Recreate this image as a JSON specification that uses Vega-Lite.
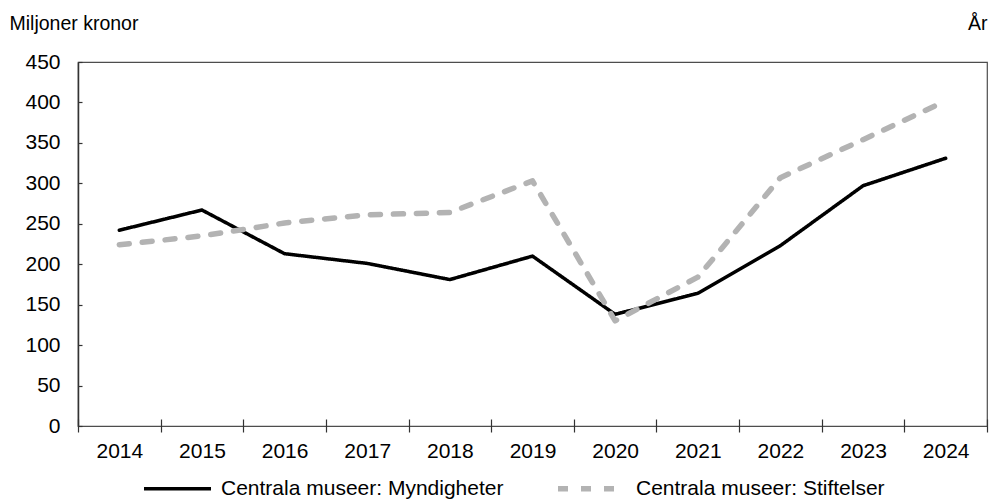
{
  "$schema": "https://vega.github.io/schema/vega-lite/v6.json",
  "width": 909,
  "height": 364,
  "autosize": {"type": "none"},
  "padding": {"left": 78, "top": 62, "right": 5, "bottom": 73},
  "background": "white",
  "config": {
    "font": "Liberation Sans",
    "view": {"stroke": "#4d4d4d", "strokeWidth": 1.2}
  },
  "data": {
    "values": [
      {"year": "2014", "series": "Centrala museer: Myndigheter", "value": 242},
      {"year": "2015", "series": "Centrala museer: Myndigheter", "value": 267},
      {"year": "2016", "series": "Centrala museer: Myndigheter", "value": 213},
      {"year": "2017", "series": "Centrala museer: Myndigheter", "value": 201},
      {"year": "2018", "series": "Centrala museer: Myndigheter", "value": 181},
      {"year": "2019", "series": "Centrala museer: Myndigheter", "value": 210},
      {"year": "2020", "series": "Centrala museer: Myndigheter", "value": 138},
      {"year": "2021", "series": "Centrala museer: Myndigheter", "value": 164},
      {"year": "2022", "series": "Centrala museer: Myndigheter", "value": 223},
      {"year": "2023", "series": "Centrala museer: Myndigheter", "value": 297},
      {"year": "2024", "series": "Centrala museer: Myndigheter", "value": 331},
      {"year": "2014", "series": "Centrala museer: Stiftelser", "value": 224},
      {"year": "2015", "series": "Centrala museer: Stiftelser", "value": 235},
      {"year": "2016", "series": "Centrala museer: Stiftelser", "value": 251},
      {"year": "2017", "series": "Centrala museer: Stiftelser", "value": 261},
      {"year": "2018", "series": "Centrala museer: Stiftelser", "value": 264},
      {"year": "2019", "series": "Centrala museer: Stiftelser", "value": 303},
      {"year": "2020", "series": "Centrala museer: Stiftelser", "value": 130},
      {"year": "2021", "series": "Centrala museer: Stiftelser", "value": 184},
      {"year": "2022", "series": "Centrala museer: Stiftelser", "value": 307},
      {"year": "2023", "series": "Centrala museer: Stiftelser", "value": 354},
      {"year": "2024", "series": "Centrala museer: Stiftelser", "value": 402}
    ]
  },
  "mark": {"type": "line", "strokeCap": "round", "strokeJoin": "round"},
  "encoding": {
    "x": {
      "field": "year",
      "type": "ordinal",
      "scale": {"type": "band", "paddingInner": 0, "paddingOuter": 0},
      "axis": {
        "title": "År",
        "titleX": 909,
        "titleY": -390,
        "titleAlign": "right",
        "titleBaseline": "alphabetic",
        "titleFontSize": 19.5,
        "titleFontWeight": "normal",
        "titleColor": "black",
        "labelAngle": 0,
        "labelFontSize": 21,
        "labelColor": "black",
        "labelPadding": 8,
        "labelBaseline": "top",
        "tickBand": "extent",
        "tickSize": 13,
        "tickColor": "#333333",
        "tickWidth": 1.2,
        "offset": -7,
        "domain": false,
        "grid": false
      }
    },
    "y": {
      "field": "value",
      "type": "quantitative",
      "scale": {"domain": [0, 450], "nice": false},
      "axis": {
        "title": "Miljoner kronor",
        "titleAngle": 0,
        "titleAlign": "left",
        "titleBaseline": "alphabetic",
        "titleX": -69,
        "titleY": -33,
        "titleFontSize": 19.5,
        "titleFontWeight": "normal",
        "titleColor": "black",
        "values": [0, 50, 100, 150, 200, 250, 300, 350, 400, 450],
        "grid": false,
        "tickSize": -4,
        "tickColor": "#333333",
        "tickWidth": 1.2,
        "domainColor": "#333333",
        "domainWidth": 1.5,
        "labelFontSize": 21,
        "labelColor": "black",
        "labelPadding": 22
      }
    },
    "color": {
      "field": "series",
      "type": "nominal",
      "scale": {"domain": ["Centrala museer: Myndigheter", "Centrala museer: Stiftelser"], "range": ["#000000", "#b3b3b3"]},
      "legend": {
        "title": null,
        "orient": "none",
        "direction": "horizontal",
        "legendX": 64,
        "legendY": 390,
        "padding": 0,
        "symbolType": "stroke",
        "symbolSize": 4489,
        "symbolStrokeWidth": 4.5,
        "labelFontSize": 21,
        "labelColor": "black",
        "labelOffset": 8,
        "columnPadding": 43,
        "labelLimit": 400
      }
    },
    "strokeDash": {
      "field": "series",
      "type": "nominal",
      "scale": {"domain": ["Centrala museer: Myndigheter", "Centrala museer: Stiftelser"], "range": [[1, 0], [10, 13]]},
      "legend": {
        "title": null,
        "orient": "none",
        "direction": "horizontal",
        "legendX": 64,
        "legendY": 390,
        "padding": 0,
        "symbolType": "stroke",
        "symbolSize": 4489,
        "symbolStrokeWidth": 4.5,
        "labelFontSize": 21,
        "labelColor": "black",
        "labelOffset": 8,
        "columnPadding": 43,
        "labelLimit": 400
      }
    },
    "strokeWidth": {
      "field": "series",
      "type": "ordinal",
      "scale": {"domain": ["Centrala museer: Myndigheter", "Centrala museer: Stiftelser"], "range": [3.5, 5.5]},
      "legend": null
    }
  }
}
